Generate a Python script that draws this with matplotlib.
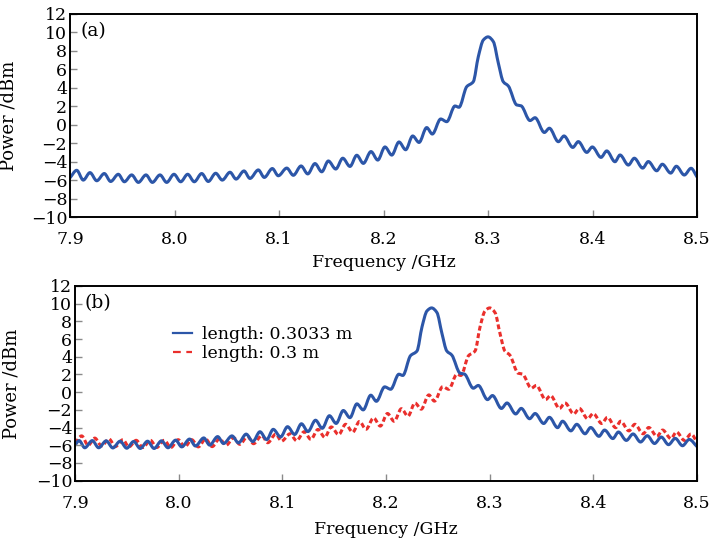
import numpy as np
import matplotlib
matplotlib.use("Agg")
import matplotlib.pyplot as plt
from matplotlib.path import Path
from matplotlib.patches import PathPatch
from matplotlib.lines import Line2D

# (a) spectrum, fibre length 0.3 m: ripple extrema and peak profile (GHz, dBm)
freq_a = [7.9000, 7.9064, 7.9127, 7.9191, 7.9256, 7.9328, 7.9389, 7.9462, 7.9520, 7.9590,
          7.9654, 7.9727, 7.9788, 7.9861, 7.9925, 7.9995, 8.0059, 8.0126, 8.0189, 8.0260,
          8.0323, 8.0394, 8.0457, 8.0531, 8.0589, 8.0665, 8.0722, 8.0802, 8.0859, 8.0936,
          8.0993, 8.1074, 8.1137, 8.1211, 8.1275, 8.1344, 8.1409, 8.1472, 8.1543, 8.1610,
          8.1679, 8.1744, 8.1807, 8.1880, 8.1945, 8.2014, 8.2079, 8.2148, 8.2212, 8.2279,
          8.2340, 8.2413, 8.2467, 8.2547, 8.2605, 8.2684, 8.2722, 8.2796, 8.2859, 8.2907,
          8.2955, 8.3000, 8.3051, 8.3099, 8.3146, 8.3194, 8.3275, 8.3316, 8.3402, 8.3450,
          8.3539, 8.3587, 8.3673, 8.3727, 8.3811, 8.3864, 8.3945, 8.3998, 8.4081, 8.4136,
          8.4215, 8.4263, 8.4343, 8.4400, 8.4480, 8.4534, 8.4614, 8.4668, 8.4748, 8.4802,
          8.4878, 8.4943, 8.5000]
power_a = [-5.75, -4.94, -6.00, -5.19, -6.07, -5.29, -6.15, -5.37, -6.18, -5.44,
           -6.25, -5.44, -6.25, -5.44, -6.25, -5.37, -6.18, -5.37, -6.18, -5.29,
           -6.15, -5.26, -6.00, -5.15, -5.89, -5.01, -5.82, -4.90, -5.71, -4.75,
           -5.53, -4.70, -5.48, -4.47, -5.33, -4.21, -5.10, -3.93, -4.80, -3.63,
           -4.52, -3.31, -4.19, -2.91, -3.83, -2.41, -3.29, -1.87, -2.71, -1.22,
           -1.92, -0.31, -1.01, 0.62, 0.33, 2.03, 1.89, 4.12, 4.66, 7.37,
           9.18, 9.52, 9.00, 6.66, 4.66, 4.20, 2.14, 2.05, 0.45, 0.76,
           -0.84, -0.38, -1.84, -1.22, -2.46, -1.83, -3.00, -2.41, -3.54, -2.84,
           -4.01, -3.28, -4.37, -3.63, -4.70, -3.99, -4.99, -4.28, -5.24, -4.50,
           -5.45, -4.72, -5.66]

# (b) spectrum, fibre length 0.3033 m
freq_b_long = [7.9000, 7.9040, 7.9094, 7.9167, 7.9228, 7.9301, 7.9365, 7.9435, 7.9499, 7.9566,
               7.9629, 7.9700, 7.9763, 7.9834, 7.9897, 7.9971, 8.0029, 8.0105, 8.0162, 8.0242,
               8.0299, 8.0376, 8.0433, 8.0514, 8.0577, 8.0651, 8.0715, 8.0784, 8.0849, 8.0912,
               8.0983, 8.1050, 8.1119, 8.1184, 8.1247, 8.1320, 8.1385, 8.1454, 8.1519, 8.1588,
               8.1652, 8.1719, 8.1780, 8.1853, 8.1907, 8.1987, 8.2045, 8.2124, 8.2162, 8.2236,
               8.2299, 8.2347, 8.2395, 8.2440, 8.2491, 8.2539, 8.2586, 8.2634, 8.2715, 8.2756,
               8.2842, 8.2890, 8.2979, 8.3027, 8.3113, 8.3167, 8.3251, 8.3304, 8.3385, 8.3438,
               8.3521, 8.3576, 8.3655, 8.3703, 8.3783, 8.3840, 8.3920, 8.3974, 8.4054, 8.4108,
               8.4188, 8.4242, 8.4318, 8.4383, 8.4455, 8.4520, 8.4590, 8.4655, 8.4725, 8.4790,
               8.4860, 8.4925, 8.5000]
power_b_long = [-6.00, -5.47, -6.28, -5.47, -6.28, -5.50, -6.30, -5.54, -6.33, -5.57,
                -6.36, -5.54, -6.36, -5.50, -6.28, -5.42, -6.18, -5.30, -6.08, -5.17,
                -5.98, -5.02, -5.80, -4.94, -5.73, -4.74, -5.58, -4.47, -5.36, -4.20,
                -5.06, -3.90, -4.78, -3.57, -4.45, -3.17, -4.08, -2.66, -3.53, -2.07,
                -2.88, -1.32, -2.00, -0.34, -1.03, 0.60, 0.33, 2.03, 1.89, 4.12,
                4.66, 7.37, 9.18, 9.52, 9.00, 6.66, 4.66, 4.20, 2.14, 2.05,
                0.45, 0.76, -0.84, -0.38, -1.84, -1.22, -2.46, -1.83, -3.00, -2.41,
                -3.54, -2.84, -4.01, -3.28, -4.37, -3.63, -4.70, -3.99, -4.99, -4.28,
                -5.24, -4.50, -5.45, -4.72, -5.63, -4.92, -5.80, -5.07, -5.93, -5.22,
                -6.05, -5.34, -6.15]

# (b) spectrum, fibre length 0.3 m (same trace as panel a)
freq_b_short = freq_a
power_b_short = power_a

x_ticks = [7.9, 8.0, 8.1, 8.2, 8.3, 8.4, 8.5]
x_tick_labels = ["7.9", "8.0", "8.1", "8.2", "8.3", "8.4", "8.5"]
y_ticks = [-10, -8, -6, -4, -2, 0, 2, 4, 6, 8, 10, 12]
legend_labels = ["length: 0.3033 m", "length: 0.3 m"]
panel_tags = ["(a)", "(b)"]
x_label = "Frequency /GHz"
y_label = "Power /dBm"

BLUE = "#2c56a8"
RED = "#ea2f2c"
LW = 2.2
DASH = (0, (1.6, 0.9))

plt.rcParams["font.family"] = ["DejaVu Serif"]
plt.rcParams["mathtext.fontset"] = "dejavuserif"


def smooth_path(x, y):
    """Monotone cubic (PCHIP-style) Bezier path through the given points."""
    x = np.asarray(x, float)
    y = np.asarray(y, float)
    h = np.diff(x)
    d = np.diff(y) / h
    m = np.empty_like(y)
    m[0], m[-1] = d[0], d[-1]
    for i in range(1, len(y) - 1):
        if d[i - 1] * d[i] <= 0:
            m[i] = 0.0
        else:
            w1 = 2 * h[i] + h[i - 1]
            w2 = h[i] + 2 * h[i - 1]
            m[i] = (w1 + w2) / (w1 / d[i - 1] + w2 / d[i])
    verts = [(x[0], y[0])]
    codes = [Path.MOVETO]
    for i in range(len(h)):
        verts += [(x[i] + h[i] / 3, y[i] + m[i] * h[i] / 3),
                  (x[i + 1] - h[i] / 3, y[i + 1] - m[i + 1] * h[i] / 3),
                  (x[i + 1], y[i + 1])]
        codes += [Path.CURVE4] * 3
    return Path(verts, codes)


def draw_trace(ax, x, y, color, ls="-"):
    cap = "round" if ls == "-" else "butt"
    patch = PathPatch(smooth_path(x, y), facecolor="none", edgecolor=color,
                      lw=LW, linestyle=ls, capstyle=cap, joinstyle="round")
    ax.add_patch(patch)


def style_axes(ax, tag, xlab_y, ylab_x):
    ax.set_xlim(7.9, 8.5)
    ax.set_ylim(-10, 12)
    ax.set_xticks(x_ticks)
    ax.set_xticklabels(x_tick_labels)
    ax.set_yticks(y_ticks)
    for s in ax.spines.values():
        s.set_linewidth(1.4)
        s.set_color("black")
    ax.tick_params(axis="both", direction="in", length=5, width=1.0,
                   color="#8a8a8a", labelsize=12.5, labelcolor="black")
    ax.tick_params(axis="x", pad=10)
    ax.tick_params(axis="y", pad=2)
    ax.set_xlabel(x_label, fontsize=12.5)
    ax.set_ylabel(y_label, fontsize=13)
    ax.xaxis.set_label_coords(0.5, xlab_y)
    ax.yaxis.set_label_coords(ylab_x, 0.5)
    ax.text(0.016, 0.96, tag, transform=ax.transAxes, ha="left", va="top",
            fontsize=13.5)


fig = plt.figure(figsize=(7.13, 5.44), dpi=100)
ax_a = fig.add_axes([0.0982, 0.6011, 0.8794, 0.3732])
ax_b = fig.add_axes([0.1052, 0.1164, 0.8724, 0.3579])

draw_trace(ax_a, freq_a, power_a, BLUE)
style_axes(ax_a, panel_tags[0], -0.18, -0.083)

draw_trace(ax_b, freq_b_short, power_b_short, RED, ls=DASH)
draw_trace(ax_b, freq_b_long, power_b_long, BLUE)
style_axes(ax_b, panel_tags[1], -0.205, -0.087)

handles = [Line2D([], [], color=BLUE, lw=1.6),
           Line2D([], [], color=RED, lw=1.6, linestyle=(0, (3.5, 2.5)))]
ax_b.legend(handles, legend_labels, loc="upper left",
            bbox_to_anchor=(0.158, 0.795), frameon=False, fontsize=12.5,
            handlelength=1.1, handletextpad=0.55, labelspacing=0.1,
            borderpad=0, borderaxespad=0)

fig.savefig("out.png", dpi=100)
